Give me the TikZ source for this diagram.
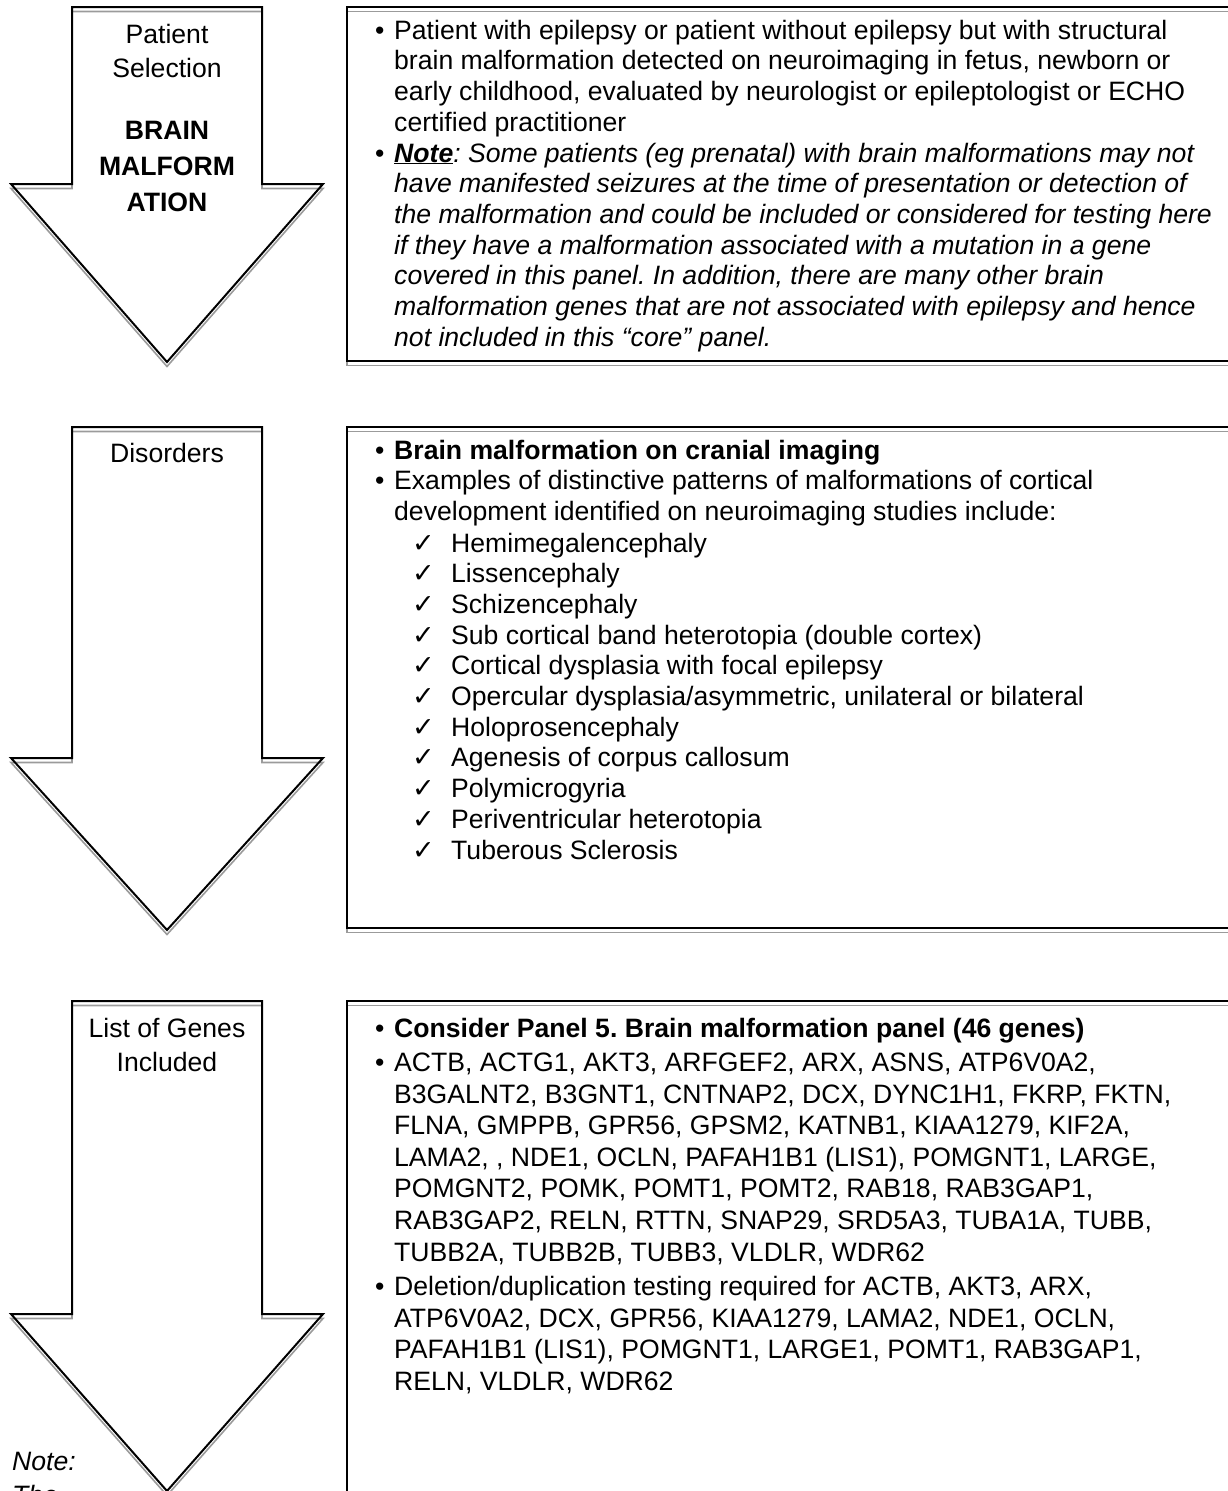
\documentclass[tikz,border=0pt]{standalone}
\usepackage{fontspec}
\setmainfont{Liberation Sans}
\newfontfamily\symfont{DejaVu Sans}
\definecolor{shadowgray}{RGB}{155,155,155}
\frenchspacing
\newcommand{\bul}{\textbullet}
\newcommand{\chk}{{\symfont\fontsize{27}{27}\selectfont ✓}}
\begin{document}
\begin{tikzpicture}[x=1pt,y=-1pt,line join=miter,
  outline/.style={draw=black,line width=2pt},
  shadowline/.style={draw=shadowgray,line width=1.6pt,shift={(0,4.5)}},
  bodytext/.style={inner sep=0pt,anchor=base west,font=\fontsize{26.6}{30.7}\selectfont},
  gene/.style={inner sep=0pt,anchor=base west,font=\fontsize{26.6}{31.6}\selectfont},
  bulletmark/.style={inner sep=0pt,anchor=base west,font=\fontsize{26.6}{30}\selectfont},
  checkmark/.style={inner sep=0pt,anchor=base west},
  arrowtext/.style={inner sep=0pt,anchor=base,font=\fontsize{26.6}{34.5}\selectfont}]
\useasboundingbox (0,0) rectangle (1228,1491);
\clip (0,0) rectangle (1228,1491);
% ---------- arrows ----------
\draw[shadowline] (72,7) -- (262,7) -- (262,184) -- (323,184) -- (167,362) -- (11,184) -- (72,184) -- cycle;
\draw[outline] (72,7) -- (262,7) -- (262,184) -- (323,184) -- (167,362) -- (11,184) -- (72,184) -- cycle;
\draw[shadowline] (72,427) -- (262,427) -- (262,758) -- (323,758) -- (167,930) -- (11,758) -- (72,758) -- cycle;
\draw[outline] (72,427) -- (262,427) -- (262,758) -- (323,758) -- (167,930) -- (11,758) -- (72,758) -- cycle;
\draw[shadowline] (72,1001) -- (262,1001) -- (262,1314) -- (323,1314) -- (167,1491) -- (11,1314) -- (72,1314) -- cycle;
\draw[outline] (72,1001) -- (262,1001) -- (262,1314) -- (323,1314) -- (167,1491) -- (11,1314) -- (72,1314) -- cycle;
% ---------- boxes ----------
\draw[shadowline] (347,7) rectangle (1250,361);
\draw[outline] (347,7) rectangle (1250,361);
\draw[shadowline] (347,427) rectangle (1250,928);
\draw[outline] (347,427) rectangle (1250,928);
\draw[shadowline] (347,1001) rectangle (1250,1520);
\draw[outline] (347,1001) rectangle (1250,1520);
% ---------- arrow labels ----------
\node[arrowtext] (sel) at (167,43) {\begin{tabular}[t]{@{}c@{}}Patient\\Selection\end{tabular}};
\node[arrowtext,font=\fontsize{26.6}{35.8}\selectfont\bfseries] (bm) at (167,139.5) {\begin{tabular}[t]{@{}c@{}}BRAIN\\MALFORM\\ATION\end{tabular}};
\node[arrowtext] (dis) at (167,462) {Disorders};
\node[arrowtext] (genes) at (167,1037) {\begin{tabular}[t]{@{}c@{}}List of Genes\\Included\end{tabular}};
\node[arrowtext,anchor=base west,font=\fontsize{26.6}{34}\selectfont\itshape] (note) at (12,1470) {\begin{tabular}[t]{@{}l@{}}Note:\\The\end{tabular}};
% ---------- box 1 ----------
\node[bulletmark] (b1a) at (375,39) {\bul};
\node[bodytext] (t1a) at (394,39) {\begin{tabular}[t]{@{}l@{}}Patient with epilepsy or patient without epilepsy but with structural\\brain malformation detected on neuroimaging in fetus, newborn or\\early childhood, evaluated by neurologist or epileptologist or ECHO\\certified practitioner\end{tabular}};
\node[bulletmark] (b1b) at (375,162) {\bul};
\node[bodytext,font=\fontsize{26.6}{30.7}\selectfont\itshape] (t1b) at (394,162) {\begin{tabular}[t]{@{}l@{}}\underline{\textbf{Note}}: Some patients (eg prenatal) with brain malformations may not\\have manifested seizures at the time of presentation or detection of\\the malformation and could be included or considered for testing here\\if they have a malformation associated with a mutation in a gene\\covered in this panel. In addition, there are many other brain\\malformation genes that are not associated with epilepsy and hence\\not included in this “core” panel.\end{tabular}};
% ---------- box 2 ----------
\node[bulletmark] (b2a) at (375,459) {\bul};
\node[bodytext,font=\fontsize{26.6}{30.7}\selectfont\bfseries] (t2a) at (394,459) {Brain malformation on cranial imaging};
\node[bulletmark] (b2b) at (375,489.6) {\bul};
\node[bodytext] (t2b) at (394,489.6) {\begin{tabular}[t]{@{}l@{}}Examples of distinctive patterns of malformations of cortical\\development identified on neuroimaging studies include:\end{tabular}};
\node[bodytext] (t2c) at (451,552) {\begin{tabular}[t]{@{}l@{}}Hemimegalencephaly\\Lissencephaly\\Schizencephaly\\Sub cortical band heterotopia (double cortex)\\Cortical dysplasia with focal epilepsy\\Opercular dysplasia/asymmetric, unilateral or bilateral\\Holoprosencephaly\\Agenesis of corpus callosum\\Polymicrogyria\\Periventricular heterotopia\\Tuberous Sclerosis\end{tabular}};
\node[checkmark,font=\fontsize{26.6}{30.7}\selectfont] (checks) at (412,552) {\begin{tabular}[t]{@{}l@{}}\chk\\\chk\\\chk\\\chk\\\chk\\\chk\\\chk\\\chk\\\chk\\\chk\\\chk\end{tabular}};
% ---------- box 3 ----------
\node[bulletmark] (b3a) at (375,1037.5) {\bul};
\node[gene,font=\fontsize{26.6}{31.6}\selectfont\bfseries] (t3a) at (394,1037.5) {Consider Panel 5. Brain malformation panel (46 genes)};
\node[bulletmark] (b3b) at (375,1071.5) {\bul};
\node[gene] (t3b) at (394,1071.5) {\begin{tabular}[t]{@{}l@{}}ACTB, ACTG1, AKT3, ARFGEF2, ARX, ASNS, ATP6V0A2,\\B3GALNT2, B3GNT1, CNTNAP2, DCX, DYNC1H1, FKRP, FKTN,\\FLNA, GMPPB, GPR56, GPSM2, KATNB1, KIAA1279, KIF2A,\\LAMA2, , NDE1, OCLN, PAFAH1B1 (LIS1), POMGNT1, LARGE,\\POMGNT2, POMK, POMT1, POMT2, RAB18, RAB3GAP1,\\RAB3GAP2, RELN, RTTN, SNAP29, SRD5A3, TUBA1A, TUBB,\\TUBB2A, TUBB2B, TUBB3, VLDLR, WDR62\end{tabular}};
\node[bulletmark] (b3c) at (375,1295.5) {\bul};
\node[gene] (t3c) at (394,1295.5) {\begin{tabular}[t]{@{}l@{}}Deletion/duplication testing required for ACTB, AKT3, ARX,\\ATP6V0A2, DCX, GPR56, KIAA1279, LAMA2, NDE1, OCLN,\\PAFAH1B1 (LIS1), POMGNT1, LARGE1, POMT1, RAB3GAP1,\\RELN, VLDLR, WDR62\end{tabular}};
\end{tikzpicture}
\end{document}
